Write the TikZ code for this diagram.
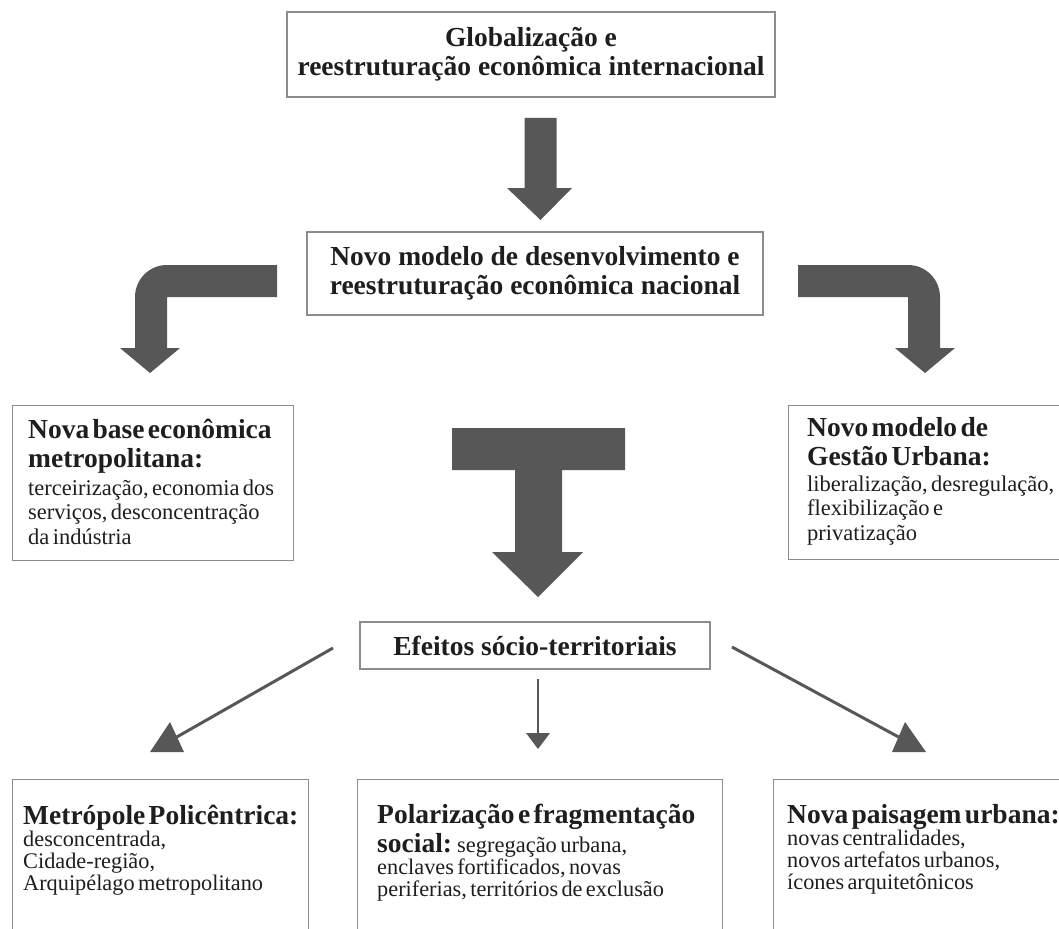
\documentclass[tikz,border=0pt]{standalone}
\usepackage{fontspec}
\setmainfont{Liberation Serif}
\definecolor{arrowgray}{HTML}{575757}
\definecolor{boxline}{HTML}{8C8C8C}
\definecolor{txt}{HTML}{1E1E1E}
\newcommand\headfont{\fontsize{27.5}{29.5}\selectfont\bfseries}
\newcommand\bodyfont{\fontsize{22.5}{24.5}\selectfont}
\newcommand\bodyfontb{\fontsize{22.3}{22}\selectfont}
\begin{document}
\begin{tikzpicture}[x=1pt,y=-1pt,
  box/.style={draw=boxline, line width=1.3pt, fill=white, inner sep=0pt},
  content/.style={anchor=base west, inner sep=0pt, align=left, text width=#1, text=txt},
  bigarrow/.style={fill=arrowgray},
  thinline/.style={draw=arrowgray, line width=3pt},
  tiphead/.style={fill=arrowgray}]
\useasboundingbox (0,0) rectangle (1059,928);
\clip (0,0) rectangle (1059,928);

% top boxes
\node[box, minimum width=488pt, minimum height=85pt, font=\headfont, align=center, text=txt] (glob) at (531,54.5)
  {Globalização e\\ reestruturação econômica internacional};
\node[box, minimum width=456pt, minimum height=83pt, font=\headfont, align=center, text=txt] (nac) at (535,273.5)
  {Novo modelo de desenvolvimento e\\ reestruturação econômica nacional};

% block arrow glob -> nac
\fill[bigarrow] (524.5,118) -- (556.5,118) -- (556.5,188) -- (572,188) -- (540.5,220) -- (507,188) -- (524.5,188) -- cycle;

% bent arrows
\fill[bigarrow] (277,265) -- (167,265) .. controls (149.3,265) and (135,279.3) .. (135,297) -- (135,348) -- (120,348) -- (150,373) -- (180,348) -- (167,348) -- (167,297) -- (277,297) -- cycle;
\fill[bigarrow] (798,265) -- (908,265) .. controls (925.7,265) and (940,279.3) .. (940,297) -- (940,348) -- (955,348) -- (925,373) -- (895,348) -- (908,348) -- (908,297) -- (798,297) -- cycle;

% side boxes
\node[box, anchor=north west, minimum width=281pt, minimum height=155pt] (base) at (12,405) {};
\node[content=270pt] (baset) at (28,438)
  {{\headfont Nova base econômica\\ metropolitana:\par}\vspace{3pt}%
   {\bodyfont terceirização, economia dos\\ serviços, desconcentração\\ da indústria\par}};

\node[box, anchor=north west, minimum width=290pt, minimum height=154pt] (gest) at (788,405) {};
\node[content=270pt] (gestt) at (807,436)
  {{\headfont Novo modelo de\\ Gestão Urbana:\par}\vspace{1pt}%
   {\bodyfont liberalização, desregulação,\\ flexibilização e\\ privatização\par}};

% T block arrow
\fill[bigarrow] (452,428) -- (625,428) -- (625,470) -- (562,470) -- (562,552) -- (583,552) -- (538,597) -- (492,552) -- (515,552) -- (515,470) -- (452,470) -- cycle;

% effects
\node[box, minimum width=350pt, minimum height=47pt, font=\headfont, text=txt] (efe) at (535,645.5) {Efeitos sócio-territoriais};

\coordinate (l0) at (333,648);
\coordinate (l1) at (168,742);
\coordinate (m0) at (538,679);
\coordinate (m1) at (538,736);
\coordinate (r0) at (732,647);
\coordinate (r1) at (906,741);
\draw[thinline] (l0) -- (l1);
\fill[tiphead] (150,752) -- (184,752) -- (170,722) -- cycle;
\draw[thinline, line width=2.6pt] (m0) -- (m1);
\fill[tiphead] (526,733) -- (550,733) -- (538,749) -- cycle;
\draw[thinline] (r0) -- (r1);
\fill[tiphead] (892,752) -- (926,752) -- (905,722) -- cycle;

% bottom boxes
\node[box, anchor=north west, minimum width=296pt, minimum height=170pt] (metro) at (12,779) {};
\node[content=280pt] (metrot) at (23,824)
  {{\headfont Metrópole Policêntrica:\par}%
   {\bodyfontb desconcentrada,\\ Cidade-região,\\ Arquipélago metropolitano\par}};

\node[box, anchor=north west, minimum width=365pt, minimum height=170pt] (polar) at (357,779) {};
\node[content=345pt] (polart) at (377,823)
  {{\headfont Polarização e fragmentação\\ social: {\mdseries\bodyfont segregação urbana,}\par}%
   {\bodyfontb enclaves fortificados, novas\\ periferias, territórios de exclusão\par}};

\node[box, anchor=north west, minimum width=310pt, minimum height=170pt] (pais) at (773,779) {};
\node[content=300pt] (paist) at (787,823)
  {{\headfont Nova paisagem urbana:\par}%
   {\bodyfontb novas centralidades,\\ novos artefatos urbanos,\\ ícones arquitetônicos\par}};
\end{tikzpicture}
\end{document}
